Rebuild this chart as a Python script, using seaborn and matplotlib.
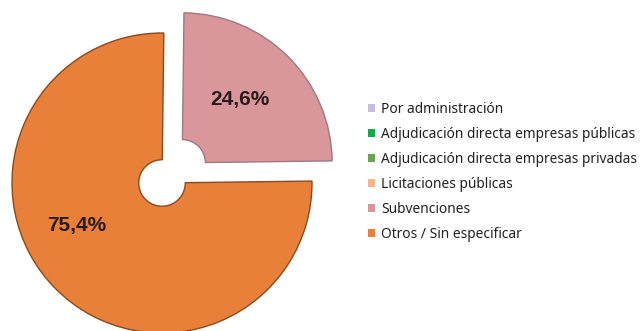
import matplotlib
matplotlib.use("Agg")
import matplotlib.pyplot as plt
from matplotlib.patches import Patch
import seaborn as sns

categories = ["Por administración",
              "Adjudicación directa empresas públicas",
              "Adjudicación directa empresas privadas",
              "Licitaciones públicas",
              "Subvenciones",
              "Otros / Sin especificar"]
values = [0.0, 0.0, 0.0, 0.0, 24.6, 75.4]
colors = ["#c7c0dd", "#16a850", "#6aa650", "#f5b58c", "#d9969b", "#e8803a"]
edge_colors = ["#8a8098", "#0e6e34", "#456d34", "#a07559", "#9b7a82", "#8a4a1e"]

sns.set_theme(style="white")
plt.rcParams['font.family'] = ['Noto Sans', 'DejaVu Sans']

fig = plt.figure(figsize=(6.4, 3.31), dpi=100)
# pie axes: 150 px per data unit, centre at (162, 183 from top)
W, H = 640, 331
a = 1.25
b = 1.25
ax = fig.add_axes([(162 - 150 * a) / W, (148 - 150 * b) / H, 300 * a / W, 300 * b / H])
ax.set_xlim(-a, a)
ax.set_ylim(-b, b)
ax.set_aspect("equal")
ax.axis("off")

idx = [i for i, v in enumerate(values) if v > 0]
pv = [values[i] for i in idx]
pc = [colors[i] for i in idx]
explode = [0.19 if categories[i] == "Subvenciones" else 0.0 for i in idx]
wedges, _ = ax.pie(pv, colors=pc, startangle=89.3, counterclock=False,
                   explode=explode, radius=1.0,
                   wedgeprops=dict(width=0.845, linewidth=1.0))
for w, i in zip(wedges, idx):
    w.set_edgecolor(edge_colors[i])

label_pos = {"Subvenciones": (0.52, 0.56), "Otros / Sin especificar": (-0.57, -0.28)}
for i in idx:
    x, y = label_pos[categories[i]]
    ax.text(x, y, f"{values[i]:.1f}%".replace(".", ","), ha="center", va="center",
            fontsize=15, fontweight="bold", color="#2b1a1a", family="Liberation Sans")

handles = [Patch(facecolor=c, edgecolor="none") for c in colors]
fig.legend(handles, categories, loc="upper left", bbox_to_anchor=(368 / W, 1 - 102 / H),
           frameon=False, fontsize=9.9, handlelength=0.5, handleheight=0.5,
           handletextpad=0.45, labelspacing=0.73, borderaxespad=0, borderpad=0,
           labelcolor="#222222")

fig.savefig("out.png", dpi=100)
